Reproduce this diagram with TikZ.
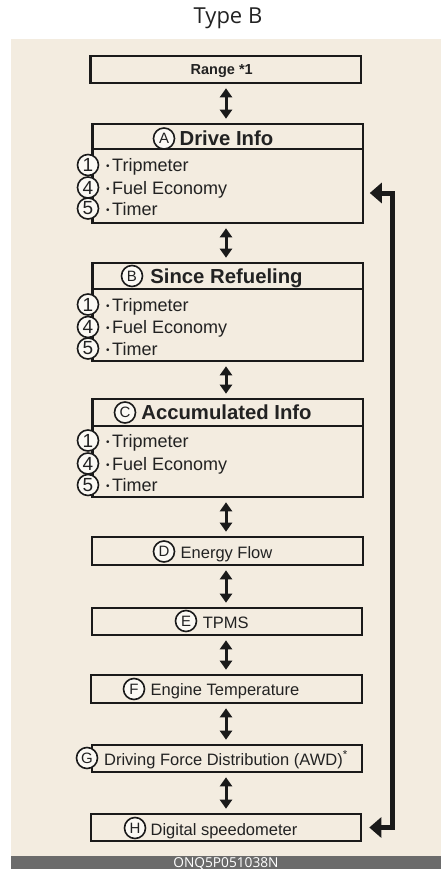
\documentclass[tikz,border=0pt]{standalone}
\usepackage{fontspec}
\setmainfont{Liberation Sans}
\newfontfamily\titlefont{Open Sans}
\usetikzlibrary{arrows.meta,calc}
\definecolor{bg}{RGB}{243,236,224}
\definecolor{ink}{RGB}{26,26,26}
\definecolor{txt}{RGB}{34,34,34}
\definecolor{bar}{RGB}{107,107,107}
\definecolor{cfill}{RGB}{251,249,244}
\begin{document}
\begin{tikzpicture}[x=1pt,y=-1pt,
  box/.style={draw=ink,line width=2.6pt,inner sep=0pt,rectangle},
  hdr/.style={font=\fontsize{20.3}{21}\selectfont\bfseries,text=txt,inner sep=0pt,anchor=base},
  rng/.style={font=\fontsize{14.5}{15}\selectfont\bfseries,text=txt,inner sep=0pt,anchor=base},
  item/.style={font=\fontsize{18}{18}\selectfont,text=txt,inner sep=0pt,anchor=base west},
  lbl/.style={font=\fontsize{16.5}{17}\selectfont,text=txt,inner sep=0pt,anchor=base},
  lcirc/.style={circle,draw=ink,line width=1.6pt,fill=cfill,minimum size=21pt,inner sep=0pt,font=\fontsize{15}{15}\selectfont,text=txt},
  ncirc/.style={lcirc,font=\fontsize{19}{19}\selectfont},
  darr/.style={draw=ink,line width=3pt,{Triangle[width=12pt,length=9pt]}-{Triangle[width=12pt,length=9pt]},shorten <=4pt,shorten >=4pt},
  looparr/.style={draw=ink,line width=5pt,line join=miter,{Triangle[width=20pt,length=12pt]}-{Triangle[width=20pt,length=12pt]},shorten <=5.5pt,shorten >=7pt}
]
\newcommand{\bul}{{\fontsize{10}{10}\selectfont\raisebox{1.8pt}{•}}\hspace{2.5pt}}
\useasboundingbox (0,0) rectangle (441,869);
% background and footer
\fill[bg] (11,39) rectangle (441,855.5);
\fill[bar] (11,855.5) rectangle (441,869);
\node[font=\titlefont\fontsize{22}{22}\selectfont,text=txt,inner sep=0pt,anchor=base] (title) at (228,23.3) {Type B};
\node[font=\titlefont\fontsize{13.7}{14}\selectfont,text=white,inner sep=0pt,anchor=base] (code) at (226,867.3) {ONQ5P051038N};

% boxes
\node[box,minimum width=270.5pt,minimum height=27pt] (range) at (225.75,69.5) {};
\node[box,minimum width=270.5pt,minimum height=25pt] (ahead) at (227.75,136.5) {};
\node[box,minimum width=270.5pt,minimum height=74pt] (abody) at (227.75,186) {};
\node[box,minimum width=270.5pt,minimum height=26pt] (bhead) at (227.75,276) {};
\node[box,minimum width=270.5pt,minimum height=72pt] (bbody) at (227.75,325) {};
\node[box,minimum width=270.5pt,minimum height=27pt] (chead) at (227.75,412.5) {};
\node[box,minimum width=270.5pt,minimum height=71pt] (cbody) at (227.75,461.5) {};
\node[box,minimum width=271pt,minimum height=28pt] (dbox) at (227.5,551) {};
\node[box,minimum width=270pt,minimum height=27pt] (ebox) at (227,621.5) {};
\node[box,minimum width=271pt,minimum height=28pt] (fbox) at (226.5,689) {};
\node[box,minimum width=270pt,minimum height=27pt] (gbox) at (227,758.5) {};
\node[box,minimum width=270pt,minimum height=27pt] (hbox) at (226,827.5) {};

% texts
\node[rng] (rangetxt) at (221.7,75) {Range *1};
\node[hdr] (atxt) at (226.5,146) {Drive Info};
\node[hdr] (btxt) at (226.5,283) {Since Refueling};
\node[hdr] (ctxt) at (226.5,419) {Accumulated Info};
\node[lbl] (dtxt) at (226.5,558) {Energy Flow};
\node[lbl] (etxt) at (225.7,628) {TPMS};
\node[lbl] (ftxt) at (225,695.5) {Engine Temperature};
\node[lbl] (gtxt) at (226,765) {Driving Force Distribution (AWD)\textsuperscript{*}};
\node[lbl] (htxt) at (224,835) {Digital speedometer};

% list items
\node[item] (a1) at (106,171.5) {\bul Tripmeter};
\node[item] (a4) at (106,194) {\bul Fuel Economy};
\node[item] (a5) at (106,215) {\bul Timer};
\node[item] (b1) at (106,311) {\bul Tripmeter};
\node[item] (b4) at (106,333.3) {\bul Fuel Economy};
\node[item] (b5) at (106,355) {\bul Timer};
\node[item] (c1) at (106,447) {\bul Tripmeter};
\node[item] (c4) at (106,470) {\bul Fuel Economy};
\node[item] (c5) at (106,491.7) {\bul Timer};

% circled numbers
\node[ncirc] (na1) at (88,165) {1};
\node[ncirc] (na4) at (88,187.5) {4};
\node[ncirc] (na5) at (88,208.5) {5};
\node[ncirc] (nb1) at (88,304.5) {1};
\node[ncirc] (nb4) at (88,327) {4};
\node[ncirc] (nb5) at (88,348.5) {5};
\node[ncirc] (nc1) at (88,440.5) {1};
\node[ncirc] (nc4) at (88,463.5) {4};
\node[ncirc] (nc5) at (88,485) {5};

% circled letters
\node[lcirc] (ca) at (164,138.5) {A};
\node[lcirc] (cb) at (132,276) {B};
\node[lcirc] (cc) at (125,412.5) {C};
\node[lcirc] (cd) at (164,551.5) {D};
\node[lcirc] (ce) at (186,621) {E};
\node[lcirc] (cf) at (134,689) {F};
\node[lcirc] (cg) at (87,758) {G};
\node[lcirc] (ch) at (135,828) {H};

% double arrows
\coordinate (ax) at (226,0);
\draw[darr] (range.south -| ax) -- (ahead.north -| ax);
\draw[darr] (abody.south -| ax) -- (bhead.north -| ax);
\draw[darr] (bbody.south -| ax) -- (chead.north -| ax);
\draw[darr] (cbody.south -| ax) -- (dbox.north -| ax);
\draw[darr] (dbox.south -| ax) -- (ebox.north -| ax);
\draw[darr] (ebox.south -| ax) -- (fbox.north -| ax);
\draw[darr] (fbox.south -| ax) -- (gbox.north -| ax);
\draw[darr] (gbox.south -| ax) -- (hbox.north -| ax);

% return loop
\coordinate (ltop) at (392.5,193);
\coordinate (lbot) at (392.5,827.5);
\draw[looparr] (abody.east |- ltop) -- (ltop) -- (lbot) -- (hbox.east |- lbot);
\end{tikzpicture}
\end{document}
